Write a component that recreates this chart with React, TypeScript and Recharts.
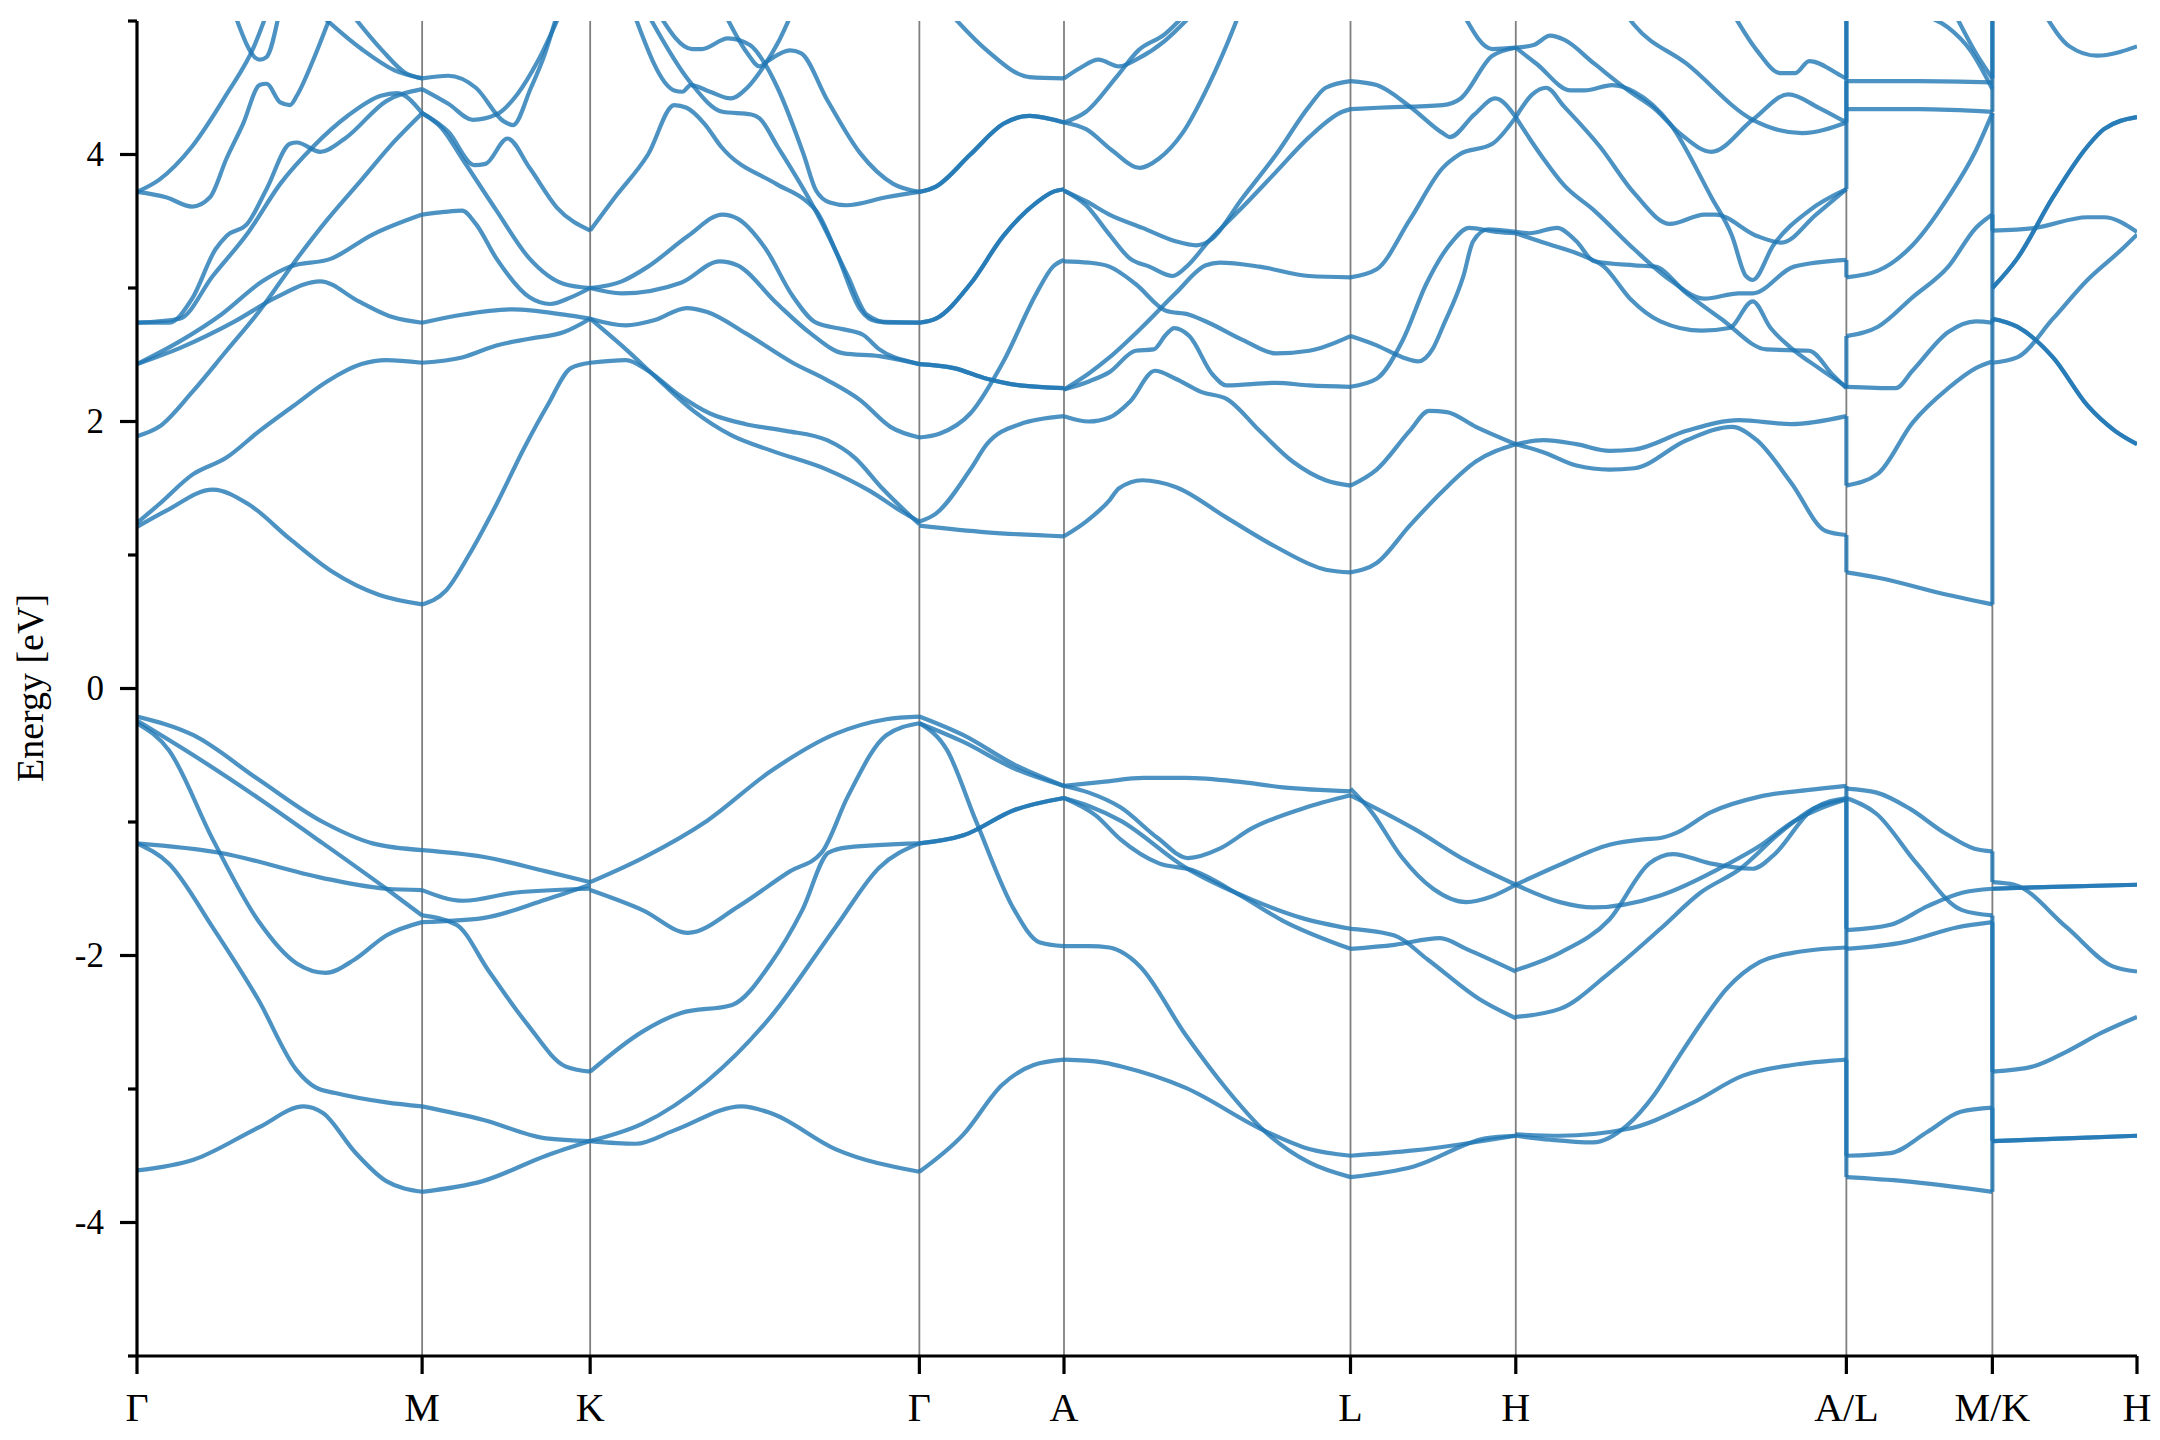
import { LineChart, Line, XAxis, YAxis, ReferenceLine } from "recharts";

type Pt = [number, number];

// k-path positions of the high-symmetry points and their labels
const kTicks = [99, 306, 428, 667, 772, 980, 1100, 1340, 1446, 1551];
const kLabels = ["Γ", "M", "K", "Γ", "A", "L", "H", "A/L", "M/K", "H"];
const energyTicks = [-5, -4, -3, -2, -1, 0, 1, 2, 3, 4, 5];

// ---- Γ -> M ----
const gmCond: Record<string, Pt[]> = {
  g1: [[99, 1.21], [120, 1.33], [154, 1.49], [180, 1.38], [210, 1.12], [240, 0.88], [275, 0.7], [306, 0.63]],
  g2: [[99, 1.24], [115, 1.38], [139, 1.6], [164, 1.73], [188, 1.93], [213, 2.12], [237, 2.3], [262, 2.43], [280, 2.46], [306, 2.44]],
  g3: [[99, 1.89], [115, 1.96], [139, 2.22], [164, 2.53], [188, 2.83], [213, 3.19], [237, 3.51], [262, 3.81], [286, 4.1], [306, 4.31]],
  g4: [[99, 2.43], [130, 2.55], [170, 2.75], [200, 2.93], [232, 3.05], [260, 2.9], [285, 2.78], [306, 2.74]],
  g5: [[99, 2.43], [130, 2.6], [160, 2.8], [190, 3.05], [210, 3.16], [240, 3.22], [270, 3.4], [306, 3.55]],
  g6: [[99, 2.74], [122, 2.74], [139, 2.92], [156, 3.29], [164, 3.39], [179, 3.48], [193, 3.74], [210, 4.08], [215, 4.09], [232, 4.02], [250, 4.12], [280, 4.4], [306, 4.49]],
  g7: [[99, 2.74], [130, 2.77], [154, 3.09], [180, 3.42], [203, 3.78], [227, 4.06], [252, 4.29], [276, 4.44], [288, 4.46], [306, 4.31]],
  g8: [[99, 3.72], [115, 3.81], [139, 4.06], [164, 4.45], [184, 4.81], [193, 5.05]],
  g9: [[99, 3.72], [120, 3.68], [139, 3.61], [152, 3.68], [164, 3.97], [176, 4.23], [188, 4.52], [193, 4.53], [203, 4.39], [210, 4.37], [215, 4.44], [227, 4.71], [237, 4.97], [240, 5.05]],
  gV: [[170, 5.05], [188, 4.71], [193, 4.73], [202, 5.05]],
  g10: [[232, 5.05], [262, 4.79], [286, 4.63], [306, 4.57]],
  g11: [[255, 5.05], [277, 4.78], [294, 4.61], [306, 4.57]],
};
const gmVal: Record<string, Pt[]> = {
  gv1: [[99, -0.21], [140, -0.35], [187, -0.68], [234, -1.0], [270, -1.16], [306, -1.21]],
  gv2: [[99, -0.24], [140, -0.5], [187, -0.82], [234, -1.16], [280, -1.5], [306, -1.7]],
  gv3: [[99, -0.26], [122, -0.46], [154, -1.13], [187, -1.74], [215, -2.06], [236, -2.13], [257, -2.03], [280, -1.85], [306, -1.75]],
  gv4: [[99, -1.16], [159, -1.23], [234, -1.42], [280, -1.5], [306, -1.51]],
  gv5: [[99, -1.16], [122, -1.31], [154, -1.79], [187, -2.33], [215, -2.86], [229, -2.99], [243, -3.03], [280, -3.1], [306, -3.13]],
  gv6: [[99, -3.61], [140, -3.53], [187, -3.29], [220, -3.13], [234, -3.18], [257, -3.47], [280, -3.69], [306, -3.77]],
};

// ---- M -> K ----
const mkCond: Record<string, Pt[]> = {
  m1: [[306, 0.63], [323, 0.73], [340, 1.0], [360, 1.38], [380, 1.8], [397, 2.12], [414, 2.4], [428, 2.44]],
  m2: [[306, 2.44], [335, 2.48], [360, 2.57], [384, 2.62], [409, 2.67], [428, 2.77]],
  m3: [[306, 2.74], [335, 2.8], [372, 2.84], [409, 2.8], [428, 2.77]],
  m4: [[306, 3.55], [322, 3.57], [335, 3.58], [345, 3.48], [360, 3.22], [384, 2.93], [399, 2.88], [414, 2.93], [428, 3.0]],
  m5: [[306, 4.31], [325, 4.17], [344, 3.92], [352, 3.93], [368, 4.12], [384, 3.9], [404, 3.6], [428, 3.43]],
  m6: [[306, 4.57], [325, 4.59], [345, 4.5], [365, 4.25], [372, 4.22], [385, 4.5], [395, 4.75], [404, 5.05]],
  m7: [[306, 4.49], [325, 4.38], [343, 4.26], [360, 4.3], [375, 4.45], [390, 4.7], [406, 5.05]],
  m8: [[306, 4.31], [320, 4.2], [335, 3.97], [360, 3.58], [384, 3.22], [409, 3.03], [428, 3.0]],
};
const mkVal: Record<string, Pt[]> = {
  mv1: [[306, -1.21], [350, -1.26], [396, -1.37], [428, -1.45]],
  mv2: [[306, -1.51], [336, -1.59], [373, -1.53], [428, -1.5]],
  mv4: [[306, -1.75], [350, -1.72], [396, -1.58], [428, -1.47]],
  mv7: [[306, -1.7], [331, -1.77], [354, -2.11], [382, -2.51], [410, -2.83], [428, -2.87]],
  mv5: [[306, -3.13], [350, -3.23], [396, -3.37], [428, -3.39]],
  mv6: [[306, -3.77], [350, -3.69], [396, -3.5], [428, -3.39]],
};

// ---- K -> Γ ----
const kgCond: Record<string, Pt[]> = {
  k1: [[428, 2.44], [454, 2.46], [470, 2.38], [491, 2.21], [515, 2.06], [541, 1.98], [570, 1.93], [600, 1.86], [620, 1.73], [640, 1.5], [667, 1.23]],
  k2: [[428, 2.77], [454, 2.54], [479, 2.3], [503, 2.08], [530, 1.9], [560, 1.78], [600, 1.64], [631, 1.48], [655, 1.32], [667, 1.25]],
  k3: [[428, 2.77], [454, 2.72], [475, 2.76], [498, 2.85], [513, 2.82], [541, 2.66], [575, 2.44], [600, 2.31], [624, 2.16], [646, 1.96], [667, 1.88]],
  k4: [[428, 3.0], [451, 2.96], [494, 3.04], [522, 3.2], [535, 3.17], [563, 2.89], [588, 2.66], [612, 2.51], [638, 2.49], [667, 2.43]],
  k5: [[428, 3.0], [451, 3.05], [470, 3.16], [499, 3.39], [524, 3.55], [535, 3.52], [555, 3.3], [575, 2.94], [592, 2.74], [612, 2.69], [626, 2.65], [638, 2.54], [663, 2.44], [667, 2.43]],
  k6: [[428, 3.43], [446, 3.68], [470, 4.0], [489, 4.37], [498, 4.35], [511, 4.23], [523, 4.06], [563, 3.78], [585, 3.65], [592, 3.58], [607, 3.26], [624, 2.84], [636, 2.75], [667, 2.74]],
  k7: [[470, 5.05], [500, 4.55], [524, 4.32], [545, 4.3], [551, 4.27], [564, 4.06], [590, 3.61], [600, 3.41], [615, 3.09], [629, 2.8], [645, 2.74], [667, 2.74]],
  k8: [[460, 5.05], [489, 4.48], [495, 4.47], [501, 4.52], [515, 4.47], [530, 4.42], [542, 4.5], [554, 4.66], [565, 4.85], [574, 5.05]],
  k9: [[478, 5.05], [502, 4.79], [509, 4.79], [528, 4.87], [544, 4.82], [556, 4.66], [564, 4.5], [583, 4.0], [592, 3.73], [602, 3.64], [614, 3.62], [643, 3.68], [667, 3.72]],
  k10: [[526, 5.05], [542, 4.76], [551, 4.66], [557, 4.7], [573, 4.78], [581, 4.76], [600, 4.41], [624, 4.01], [648, 3.78], [667, 3.72]],
};
const kgVal: Record<string, Pt[]> = {
  kv1: [[428, -1.45], [466, -1.27], [513, -0.99], [559, -0.62], [606, -0.34], [643, -0.23], [667, -0.21]],
  kv2: [[428, -1.51], [466, -1.66], [499, -1.83], [536, -1.63], [573, -1.37], [596, -1.23], [615, -0.81], [643, -0.35], [667, -0.26]],
  kv3: [[428, -2.87], [466, -2.57], [494, -2.43], [531, -2.37], [559, -2.06], [582, -1.66], [601, -1.23], [615, -1.19], [667, -1.16]],
  kv4: [[428, -3.39], [466, -3.26], [513, -2.94], [559, -2.46], [606, -1.79], [638, -1.34], [667, -1.16]],
  kv5: [[428, -3.39], [461, -3.41], [489, -3.31], [538, -3.13], [559, -3.18], [606, -3.45], [667, -3.62]],
};

// ---- Γ -> A ----
const gaCond: Record<string, Pt[]> = {
  a1: [[667, 3.72], [679, 3.76], [704, 4.0], [728, 4.23], [747, 4.29], [772, 4.24]],
  a2: [[667, 2.74], [679, 2.77], [704, 3.03], [728, 3.39], [752, 3.64], [764, 3.72], [772, 3.74]],
  a3: [[667, 2.43], [692, 2.4], [716, 2.32], [740, 2.27], [772, 2.25]],
  a4: [[667, 1.88], [682, 1.91], [704, 2.06], [728, 2.45], [752, 2.96], [764, 3.16], [772, 3.21]],
  a5: [[667, 1.25], [679, 1.31], [704, 1.64], [716, 1.83], [740, 1.98], [772, 2.04]],
  a6: [[667, 1.22], [716, 1.17], [772, 1.14]],
  a7: [[690, 5.05], [716, 4.78], [747, 4.58], [772, 4.57]],
};
const gaVal: Record<string, Pt[]> = {
  av1: [[667, -0.21], [699, -0.35], [736, -0.57], [772, -0.73]],
  av6: [[667, -0.26], [699, -0.4], [736, -0.6], [772, -0.73]],
  av2: [[667, -0.26], [687, -0.46], [708, -0.99], [736, -1.66], [754, -1.9], [772, -1.93]],
  av3: [[667, -1.16], [699, -1.1], [736, -0.91], [772, -0.82]],
  av5: [[667, -3.62], [699, -3.34], [727, -2.97], [750, -2.82], [772, -2.78]],
};

// ---- A -> L ----
const alCond: Record<string, Pt[]> = {
  al1: [[772, 1.14], [788, 1.25], [805, 1.41], [812, 1.5], [829, 1.56], [853, 1.51], [890, 1.28], [926, 1.06], [962, 0.89], [980, 0.87]],
  al2: [[772, 2.04], [790, 2.0], [805, 2.03], [820, 2.15], [838, 2.38], [853, 2.32], [872, 2.22], [890, 2.17], [914, 1.93], [938, 1.7], [962, 1.56], [980, 1.52]],
  al3: [[772, 2.24], [790, 2.36], [805, 2.48], [829, 2.71], [853, 2.96], [875, 3.17], [885, 3.19], [914, 3.16], [950, 3.09], [980, 3.08]],
  al4: [[772, 2.24], [790, 2.3], [805, 2.37], [824, 2.53], [837, 2.54], [846, 2.65], [852, 2.7], [863, 2.64], [880, 2.35], [890, 2.27], [926, 2.29], [950, 2.27], [980, 2.26]],
  al5: [[772, 3.2], [790, 3.19], [805, 3.16], [824, 3.03], [846, 2.83], [863, 2.8], [877, 2.74], [902, 2.61], [926, 2.51], [950, 2.53], [980, 2.64]],
  al6: [[772, 3.73], [788, 3.62], [805, 3.4], [820, 3.22], [834, 3.16], [851, 3.09], [861, 3.16], [877, 3.35], [902, 3.61], [926, 3.87], [950, 4.13], [974, 4.32], [980, 4.34]],
  al7: [[772, 3.73], [788, 3.65], [805, 3.55], [829, 3.45], [853, 3.35], [868, 3.32], [877, 3.35], [902, 3.68], [926, 4.0], [950, 4.36], [962, 4.5], [980, 4.55]],
  al8: [[772, 4.24], [788, 4.19], [807, 4.03], [827, 3.9], [841, 3.97], [858, 4.16], [877, 4.52], [896, 4.97], [899, 5.05]],
  al9: [[772, 4.24], [788, 4.32], [810, 4.58], [826, 4.78], [845, 4.9], [860, 5.05]],
  al10: [[772, 4.57], [784, 4.65], [797, 4.71], [812, 4.66], [826, 4.72], [845, 4.85], [865, 5.05]],
};
const alVal: Record<string, Pt[]> = {
  alv1: [[772, -0.73], [800, -0.7], [830, -0.67], [860, -0.67], [900, -0.7], [931, -0.74], [980, -0.77]],
  alv2: [[772, -0.73], [790, -0.78], [813, -0.89], [840, -1.12], [862, -1.27], [885, -1.2], [908, -1.05], [945, -0.9], [980, -0.8]],
  alv3: [[772, -0.82], [790, -0.88], [813, -0.99], [860, -1.34], [908, -1.58], [945, -1.72], [980, -1.8]],
  alv4: [[772, -0.82], [795, -0.95], [813, -1.13], [841, -1.31], [865, -1.36], [900, -1.55], [931, -1.74], [980, -1.95]],
  alv5: [[772, -1.93], [790, -1.93], [805, -1.94], [813, -1.97], [827, -2.08], [860, -2.59], [890, -3.0], [917, -3.31], [950, -3.55], [980, -3.66]],
  alv6: [[772, -2.78], [800, -2.8], [813, -2.83], [860, -2.99], [917, -3.31], [950, -3.45], [980, -3.5]],
};

// ---- L -> H ----
const lhCond: Record<string, Pt[]> = {
  lh1: [[980, 4.55], [999, 4.52], [1023, 4.36], [1047, 4.16], [1052, 4.13], [1070, 4.3], [1085, 4.42], [1100, 4.28]],
  lh2: [[980, 4.34], [1000, 4.35], [1047, 4.37], [1060, 4.42], [1083, 4.74], [1100, 4.8]],
  lh3: [[1062, 5.05], [1083, 4.79], [1100, 4.8]],
  lh4: [[980, 3.08], [999, 3.14], [1023, 3.51], [1047, 3.9], [1059, 4.0], [1083, 4.08], [1100, 4.28]],
  lh5: [[980, 2.64], [999, 2.57], [1018, 2.48], [1029, 2.45], [1040, 2.55], [1047, 2.71], [1062, 3.09], [1069, 3.35], [1080, 3.44], [1100, 3.42]],
  lh6: [[980, 2.26], [999, 2.32], [1018, 2.61], [1035, 3.03], [1054, 3.35], [1066, 3.45], [1086, 3.42], [1100, 3.41]],
  lh7: [[980, 1.52], [999, 1.64], [1023, 1.93], [1037, 2.08], [1050, 2.07], [1071, 1.96], [1100, 1.83]],
  lh8: [[980, 0.87], [999, 0.94], [1023, 1.22], [1047, 1.48], [1071, 1.7], [1100, 1.83]],
};
const lhVal: Record<string, Pt[]> = {
  lhv1: [[980, -0.75], [995, -0.92], [1017, -1.26], [1040, -1.5], [1064, -1.6], [1082, -1.56], [1100, -1.47]],
  lhv2: [[980, -0.8], [1026, -1.05], [1064, -1.29], [1100, -1.47]],
  lhv3: [[980, -1.8], [1012, -1.85], [1036, -2.03], [1074, -2.33], [1100, -2.47]],
  lhv4: [[980, -1.95], [1012, -1.92], [1045, -1.87], [1064, -1.95], [1100, -2.12]],
  lhv5: [[980, -3.66], [1026, -3.58], [1078, -3.37], [1100, -3.35]],
  lhv6: [[980, -3.5], [1026, -3.46], [1100, -3.35]],
};

// ---- H -> A ----
const haCond: Record<string, Pt[]> = {
  ha1: [[1100, 1.83], [1120, 1.86], [1144, 1.83], [1168, 1.78], [1186, 1.79], [1224, 1.93], [1262, 2.01], [1300, 1.98], [1340, 2.04]],
  ha2: [[1100, 1.83], [1120, 1.77], [1144, 1.67], [1168, 1.64], [1186, 1.65], [1224, 1.86], [1257, 1.96], [1275, 1.86], [1300, 1.54], [1325, 1.18], [1340, 1.15]],
  ha3: [[1100, 3.42], [1110, 3.41], [1130, 3.45], [1144, 3.35], [1157, 3.2], [1186, 3.17], [1201, 3.16], [1224, 2.96], [1249, 2.77], [1282, 2.54], [1313, 2.53], [1330, 2.35], [1340, 2.25]],
  ha4: [[1100, 3.41], [1120, 3.34], [1149, 3.24], [1164, 3.16], [1183, 2.92], [1205, 2.75], [1235, 2.68], [1255, 2.7], [1272, 2.9], [1285, 2.7], [1300, 2.55], [1320, 2.4], [1340, 2.26]],
  ha5: [[1100, 4.28], [1112, 4.45], [1122, 4.5], [1135, 4.36], [1161, 4.06], [1186, 3.71], [1212, 3.48], [1237, 3.55], [1245, 3.55], [1275, 3.39], [1293, 3.34], [1318, 3.55], [1340, 3.74]],
  ha6: [[1100, 4.28], [1110, 4.12], [1120, 3.97], [1135, 3.77], [1157, 3.58], [1186, 3.29], [1212, 3.06], [1237, 2.92], [1262, 2.96], [1272, 2.96], [1302, 3.16], [1340, 3.21]],
  ha7: [[1100, 4.8], [1113, 4.82], [1125, 4.89], [1135, 4.86], [1157, 4.68], [1183, 4.47], [1200, 4.35], [1220, 4.15], [1242, 4.02], [1272, 4.26], [1298, 4.45], [1320, 4.35], [1340, 4.24]],
  ha8: [[1100, 4.8], [1115, 4.68], [1140, 4.48], [1150, 4.48], [1170, 4.52], [1186, 4.47], [1212, 4.23], [1242, 3.68], [1257, 3.39], [1267, 3.09], [1272, 3.06], [1287, 3.32], [1313, 3.58], [1340, 3.74]],
  ha9: [[1180, 5.05], [1186, 4.97], [1224, 4.68], [1272, 4.26], [1308, 4.16], [1340, 4.24]],
  ha10: [[1258, 5.05], [1275, 4.78], [1292, 4.61], [1303, 4.61], [1313, 4.7], [1338, 4.58], [1340, 4.57]],
};
const haVal: Record<string, Pt[]> = {
  hav1: [[1100, -1.47], [1132, -1.6], [1156, -1.64], [1205, -1.55], [1253, -1.32], [1277, -1.18], [1301, -1.0], [1340, -0.83]],
  hav2: [[1100, -1.47], [1132, -1.32], [1168, -1.17], [1193, -1.13], [1205, -1.12], [1217, -1.08], [1241, -0.93], [1277, -0.81], [1313, -0.76], [1340, -0.73]],
  hav3: [[1100, -2.46], [1132, -2.4], [1168, -2.13], [1205, -1.8], [1234, -1.53], [1263, -1.35], [1292, -1.08], [1316, -0.9], [1340, -0.83]],
  hav4: [[1100, -2.11], [1132, -1.98], [1168, -1.73], [1197, -1.31], [1214, -1.24], [1241, -1.31], [1272, -1.35], [1287, -1.25], [1316, -0.9], [1340, -0.82]],
  hav5: [[1100, -3.35], [1125, -3.38], [1156, -3.4], [1181, -3.27], [1200, -3.05], [1217, -2.78], [1235, -2.5], [1253, -2.25], [1277, -2.05], [1301, -1.98], [1340, -1.94]],
  hav6: [[1100, -3.34], [1132, -3.35], [1181, -3.3], [1229, -3.1], [1265, -2.9], [1301, -2.82], [1340, -2.78]],
};

// ---- L -> M ----
const lmCond: Record<string, Pt[]> = {
  lm1: [[1340, 4.55], [1393, 4.55], [1446, 4.54]],
  lm2: [[1340, 4.34], [1393, 4.34], [1446, 4.32]],
  lm3: [[1340, 3.08], [1363, 3.13], [1388, 3.32], [1414, 3.68], [1434, 4.03], [1446, 4.31]],
  lm4: [[1340, 2.64], [1363, 2.71], [1388, 2.93], [1414, 3.16], [1434, 3.45], [1446, 3.55]],
  lm5: [[1340, 2.26], [1376, 2.25], [1388, 2.38], [1414, 2.67], [1434, 2.75], [1446, 2.74]],
  lm6: [[1340, 1.52], [1363, 1.61], [1388, 1.99], [1414, 2.25], [1434, 2.4], [1446, 2.45]],
  lm7: [[1340, 0.87], [1363, 0.83], [1414, 0.7], [1446, 0.63]],
  lm8: [[1393, 5.05], [1414, 4.95], [1430, 4.78], [1446, 4.49]],
  lm9: [[1419, 5.05], [1434, 4.76], [1446, 4.57]],
};
const lmVal: Record<string, Pt[]> = {
  lmv1: [[1340, -0.75], [1362, -0.78], [1386, -0.9], [1411, -1.08], [1433, -1.2], [1446, -1.22]],
  lmv2: [[1340, -0.82], [1362, -0.94], [1391, -1.31], [1424, -1.66], [1446, -1.7]],
  lmv3: [[1340, -1.81], [1372, -1.77], [1399, -1.63], [1424, -1.53], [1446, -1.5]],
  lmv4: [[1340, -1.95], [1382, -1.9], [1420, -1.79], [1446, -1.75]],
  lmv5: [[1340, -3.5], [1372, -3.48], [1399, -3.32], [1423, -3.17], [1446, -3.14]],
  lmv6: [[1340, -3.66], [1382, -3.69], [1446, -3.77]],
};

// ---- K -> H ----
const khCond: Record<string, Pt[]> = {
  kh1: [[1446, 3.43], [1477, 3.45], [1515, 3.53], [1527, 3.53], [1551, 3.42]],
  kh2: [[1446, 3.0], [1464, 3.22], [1490, 3.68], [1515, 4.06], [1527, 4.19], [1551, 4.28]],
  kh3: [[1446, 2.77], [1464, 2.71], [1490, 2.48], [1515, 2.12], [1535, 1.93], [1551, 1.83]],
  kh4: [[1446, 2.44], [1464, 2.48], [1490, 2.77], [1515, 3.06], [1540, 3.29], [1551, 3.4]],
  kh5: [[1484, 5.05], [1502, 4.81], [1522, 4.74], [1551, 4.81]],
};
const khVal: Record<string, Pt[]> = {
  khv1: [[1446, -1.5], [1476, -1.49], [1551, -1.47]],
  khv2: [[1446, -1.45], [1462, -1.47], [1500, -1.79], [1533, -2.08], [1551, -2.12]],
  khv3: [[1446, -2.87], [1476, -2.83], [1500, -2.72], [1525, -2.58], [1551, -2.46]],
  khv4: [[1446, -3.39], [1500, -3.37], [1551, -3.35]],
};

// energies joined by the vertical jumps at the path breaks [before, after]
const jumpsAL: Pt[] = [[1.15, 0.87], [2.04, 1.52], [2.25, 2.64], [3.21, 3.08], [3.74, 4.55], [4.24, 5.05], [4.57, 5.05], [-0.73, -1.8], [-0.82, -1.95], [-1.93, -3.5], [-2.78, -3.66]];
const jumpsMK: Pt[] = [[0.63, 2.44], [2.45, 2.77], [2.74, 3.0], [3.55, 3.0], [4.31, 3.43], [4.32, 5.05], [4.57, 5.05], [-1.22, -1.45], [-1.5, -1.5], [-1.7, -2.87], [-1.75, -3.39], [-3.14, -3.39], [-3.77, -3.39]];

// doubly degenerate branches drawn twice so they come out darker
const degenerate = new Set(["a1", "a2", "a3", "av3", "kh2", "kh3", "khv1", "khv4"]);

const segments = [gmCond, gmVal, mkCond, mkVal, kgCond, kgVal, gaCond, gaVal, alCond, alVal, lhCond, lhVal, haCond, haVal, lmCond, lmVal, khCond, khVal];

type Curve = { id: string; data: { k: number; e: number }[]; type: "monotone" | "linear" };
const curves: Curve[] = [];
segments.forEach((seg, si) => {
  Object.entries(seg).forEach(([name, pts]) => {
    const data = pts.map(([k, e]) => ({ k, e }));
    curves.push({ id: `${si}-${name}`, data, type: "monotone" });
    if (degenerate.has(name)) curves.push({ id: `${si}-${name}-b`, data, type: "monotone" });
  });
});
jumpsAL.forEach(([a, b], i) =>
  curves.push({ id: `jal${i}`, data: [{ k: kTicks[7], e: a }, { k: kTicks[7], e: b }], type: "linear" })
);
jumpsMK.forEach(([a, b], i) =>
  curves.push({ id: `jmk${i}`, data: [{ k: kTicks[8], e: a }, { k: kTicks[8], e: b }], type: "linear" })
);

const W = 2144;
const H = 1424;
const MARGIN = { top: 13, right: 15, bottom: 0, left: 9 };
const Y_AXIS_W = 120;
const X_AXIS_H = 76;
const FONT = "'Liberation Serif', 'Times New Roman', serif";
const AXIS_STROKE = 3.2;

const YTick = (props: any) => {
  const { y, payload } = props;
  const v = payload.value as number;
  const major = v % 2 === 0;
  const x0 = MARGIN.left + Y_AXIS_W;
  return (
    <g>
      <line x1={x0 - (major ? 17 : 9)} x2={x0} y1={y} y2={y} stroke="#000" strokeWidth={AXIS_STROKE} />
      {major && (
        <text x={x0 - 33} y={y} textAnchor="end" dominantBaseline="central" fontSize={35} fontFamily={FONT} fill="#000">
          {String(v)}
        </text>
      )}
    </g>
  );
};

const XTick = (props: any) => {
  const { x, payload } = props;
  const label = kLabels[kTicks.indexOf(payload.value)];
  return (
    <text x={x} y={1413} textAnchor="middle" fontSize={40} fontFamily={FONT} fill="#000">
      {label}
    </text>
  );
};

const YLabel = () => (
  <text
    x={22}
    y={680}
    transform="rotate(-90 22 680)"
    textAnchor="middle"
    dominantBaseline="central"
    fontSize={38}
    fontFamily={FONT}
    fill="#000"
  >
    Energy [eV]
  </text>
);

export default function App() {
  return (
    <LineChart width={W} height={H} margin={MARGIN}>
      <XAxis
        dataKey="k"
        type="number"
        domain={[kTicks[0], kTicks[kTicks.length - 1]]}
        ticks={kTicks}
        interval={0}
        height={X_AXIS_H}
        tick={XTick}
        tickSize={18}
        tickLine={{ stroke: "#000", strokeWidth: AXIS_STROKE }}
        axisLine={{ stroke: "#000", strokeWidth: AXIS_STROKE }}
        allowDataOverflow
      />
      <XAxis
        xAxisId="top"
        orientation="top"
        type="number"
        domain={[kTicks[0], kTicks[kTicks.length - 1]]}
        height={0}
        tick={false}
        tickLine={false}
        axisLine={{ stroke: "#000", strokeWidth: AXIS_STROKE }}
      />
      <YAxis
        type="number"
        domain={[-5, 5]}
        ticks={energyTicks}
        interval={0}
        width={Y_AXIS_W}
        tick={YTick}
        tickLine={false}
        axisLine={{ stroke: "#000", strokeWidth: AXIS_STROKE }}
        allowDataOverflow
        label={{ content: YLabel }}
      />
      <YAxis
        yAxisId="right"
        orientation="right"
        type="number"
        domain={[-5, 5]}
        width={0}
        tick={false}
        tickLine={false}
        axisLine={{ stroke: "#000", strokeWidth: AXIS_STROKE }}
      />
      {kTicks.slice(1, -1).map((k) => (
        <ReferenceLine key={`v${k}`} x={k} stroke="#000" strokeOpacity={0.5} strokeWidth={1.8} />
      ))}
      {curves.map((c) => (
        <Line
          key={c.id}
          data={c.data}
          dataKey="e"
          type={c.type}
          stroke="#1f77b4"
          strokeOpacity={0.8}
          strokeWidth={4.2}
          dot={false}
          activeDot={false}
          isAnimationActive={false}
        />
      ))}
    </LineChart>
  );
}
